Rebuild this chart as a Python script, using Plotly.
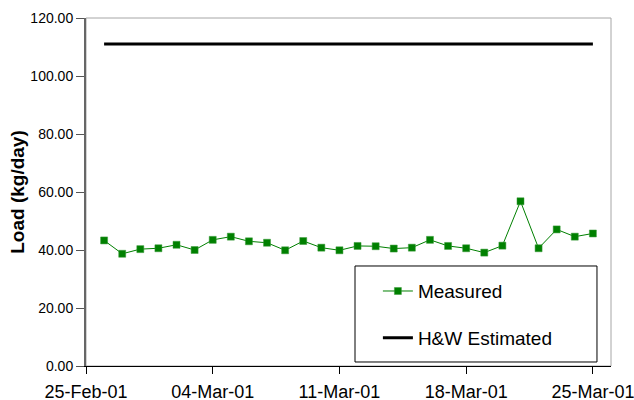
import plotly.graph_objects as go
import pandas as pd

# Data
dates = pd.date_range("2001-02-26", "2001-03-25", freq="D").strftime("%Y-%m-%d").tolist()
measured = [43.3, 38.7, 40.3, 40.6, 41.8, 40.0, 43.5, 44.6, 43.0, 42.5,
            39.9, 43.1, 40.8, 39.9, 41.4, 41.3, 40.5, 40.8, 43.5, 41.4,
            40.6, 39.1, 41.5, 56.8, 40.6, 47.1, 44.6, 45.7]
hw_estimated = [111.0] * len(dates)
x_ticks = ["2001-02-25", "2001-03-04", "2001-03-11", "2001-03-18", "2001-03-25"]
y_ticks = [0, 20, 40, 60, 80, 100, 120]

FONT = "Arial, 'Liberation Sans', sans-serif"

fig = go.Figure()
fig.add_trace(go.Scatter(
    x=dates, y=measured, name="Measured", mode="lines+markers",
    line=dict(color="#008000", width=1),
    marker=dict(symbol="square", size=7, color="#008000",
                line=dict(color="#3a9a3a", width=0.5)),
    legendgroup="a",
))
fig.add_trace(go.Scatter(
    x=dates, y=hw_estimated, name="H&W Estimated", mode="lines",
    line=dict(color="black", width=3),
    legendgroup="b",
))

# plot-area border (top/right light gray)
fig.add_shape(type="rect", xref="paper", yref="paper", x0=0, x1=1, y0=0, y1=1,
              line=dict(color="#a6a6a6", width=1), layer="below")
# legend box
fig.add_shape(type="rect", xref="paper", yref="paper",
              x0=0.5124, x1=0.9733, y0=0.0115, y1=0.2874,
              line=dict(color="black", width=1), fillcolor="white", layer="above")

fig.update_layout(
    template="none",
    width=634, height=400,
    margin=dict(l=86, r=23, t=18, b=34),
    paper_bgcolor="white", plot_bgcolor="white",
    font=dict(family=FONT, color="black"),
    showlegend=True,
    legend=dict(
        x=0.556, y=0.2697, xanchor="left", yanchor="top",
        bgcolor="rgba(0,0,0,0)", borderwidth=0,
        font=dict(size=19, family=FONT, color="black"),
        traceorder="grouped", tracegroupgap=19,
    ),
    xaxis=dict(
        type="date", range=["2001-02-25", "2001-03-26"],
        tickmode="array", tickvals=x_ticks, tickformat="%d-%b-%y",
        tickfont=dict(size=18, family=FONT, color="black"),
        ticks="outside", ticklen=7, tickcolor="black", tickwidth=1,
        ticklabelstandoff=2, ticklabeloverflow="allow",
        showline=True, linecolor="black", linewidth=1,
        showgrid=False, zeroline=False, automargin=False,
    ),
    yaxis=dict(
        range=[0, 120], tickmode="array", tickvals=y_ticks, tickformat=".2f",
        tickfont=dict(size=14, family=FONT, color="black"),
        ticks="outside", ticklen=8, tickcolor="#555555", tickwidth=1,
        showline=True, linecolor="#666666", linewidth=2,
        showgrid=False, zeroline=False, automargin=False,
        title=dict(text="<b>Load (kg/day)</b>", standoff=1,
                   font=dict(size=19, family=FONT, color="black")),
    ),
)

# remove the default 8px body margin so the 634x400 figure fills the window exactly
fig.write_html(
    "out.html",
    config={"displayModeBar": False},
    post_script="document.body.style.margin='0';document.body.style.overflow='hidden';",
)
